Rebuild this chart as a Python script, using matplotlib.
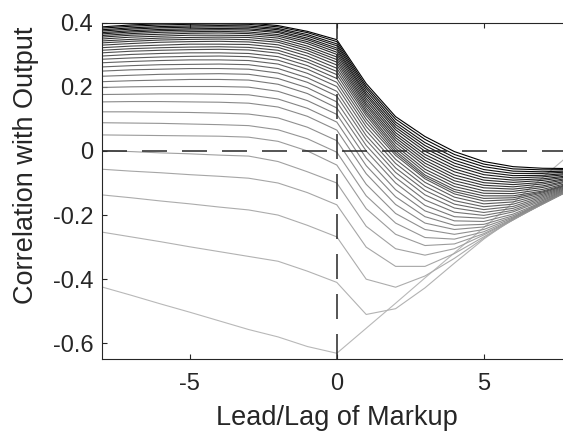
import matplotlib.pyplot as plt

# lead/lag of markup
lags = list(range(-8, 9))

# one row per curve, lightest (bottom) to darkest (top)
corr_lines = [
    [-0.424, -0.450, -0.477, -0.503, -0.530, -0.557, -0.580, -0.610, -0.631, -0.553, -0.475, -0.396, -0.318, -0.239, -0.161, -0.083, -0.005],
    [-0.253, -0.268, -0.283, -0.299, -0.314, -0.329, -0.344, -0.375, -0.410, -0.510, -0.492, -0.427, -0.350, -0.275, -0.210, -0.155, -0.110],
    [-0.137, -0.146, -0.156, -0.165, -0.175, -0.184, -0.200, -0.232, -0.268, -0.400, -0.425, -0.390, -0.335, -0.272, -0.214, -0.160, -0.114],
    [-0.057, -0.063, -0.068, -0.074, -0.079, -0.085, -0.100, -0.130, -0.168, -0.300, -0.360, -0.360, -0.320, -0.268, -0.215, -0.163, -0.116],
    [0.001, -0.002, -0.006, -0.009, -0.013, -0.016, -0.033, -0.065, -0.100, -0.235, -0.305, -0.325, -0.305, -0.262, -0.215, -0.165, -0.118],
    [0.050, 0.049, 0.048, 0.047, 0.046, 0.043, 0.030, 0.000, -0.044, -0.180, -0.260, -0.295, -0.290, -0.258, -0.214, -0.166, -0.119],
    [0.088, 0.087, 0.086, 0.084, 0.082, 0.079, 0.066, 0.038, -0.004, -0.140, -0.225, -0.270, -0.275, -0.252, -0.212, -0.166, -0.119],
    [0.122, 0.122, 0.121, 0.120, 0.118, 0.115, 0.103, 0.074, 0.032, -0.104, -0.195, -0.245, -0.260, -0.245, -0.209, -0.165, -0.119],
    [0.153, 0.154, 0.154, 0.153, 0.152, 0.149, 0.137, 0.108, 0.065, -0.071, -0.167, -0.225, -0.245, -0.237, -0.206, -0.164, -0.119],
    [0.176, 0.177, 0.178, 0.178, 0.177, 0.175, 0.162, 0.133, 0.090, -0.046, -0.143, -0.205, -0.232, -0.229, -0.202, -0.162, -0.118],
    [0.198, 0.200, 0.201, 0.201, 0.201, 0.199, 0.186, 0.157, 0.114, -0.022, -0.121, -0.187, -0.218, -0.220, -0.197, -0.159, -0.117],
    [0.216, 0.219, 0.221, 0.223, 0.223, 0.221, 0.208, 0.179, 0.134, 0.000, -0.100, -0.170, -0.205, -0.210, -0.190, -0.155, -0.115],
    [0.233, 0.236, 0.239, 0.240, 0.241, 0.239, 0.226, 0.197, 0.153, 0.017, -0.083, -0.153, -0.191, -0.201, -0.185, -0.151, -0.113],
    [0.249, 0.253, 0.255, 0.257, 0.257, 0.255, 0.243, 0.214, 0.171, 0.034, -0.067, -0.137, -0.178, -0.192, -0.179, -0.147, -0.111],
    [0.262, 0.266, 0.269, 0.270, 0.271, 0.269, 0.257, 0.228, 0.186, 0.048, -0.053, -0.123, -0.166, -0.183, -0.173, -0.143, -0.109],
    [0.275, 0.279, 0.282, 0.284, 0.284, 0.282, 0.271, 0.242, 0.201, 0.063, -0.039, -0.110, -0.155, -0.174, -0.166, -0.139, -0.107],
    [0.286, 0.290, 0.293, 0.295, 0.296, 0.294, 0.283, 0.255, 0.214, 0.076, -0.026, -0.098, -0.144, -0.165, -0.159, -0.135, -0.105],
    [0.296, 0.301, 0.304, 0.306, 0.306, 0.304, 0.294, 0.266, 0.226, 0.088, -0.014, -0.087, -0.134, -0.156, -0.152, -0.131, -0.103],
    [0.306, 0.311, 0.314, 0.316, 0.317, 0.315, 0.305, 0.277, 0.238, 0.099, -0.007, -0.081, -0.127, -0.148, -0.146, -0.128, -0.102],
    [0.314, 0.319, 0.322, 0.324, 0.325, 0.323, 0.314, 0.286, 0.248, 0.110, 0.000, -0.075, -0.120, -0.140, -0.140, -0.125, -0.100],
    [0.322, 0.327, 0.330, 0.333, 0.333, 0.332, 0.323, 0.296, 0.258, 0.118, 0.008, -0.066, -0.111, -0.132, -0.133, -0.120, -0.097],
    [0.330, 0.335, 0.339, 0.341, 0.342, 0.340, 0.331, 0.305, 0.268, 0.125, 0.016, -0.057, -0.102, -0.124, -0.126, -0.114, -0.093],
    [0.337, 0.342, 0.346, 0.348, 0.349, 0.347, 0.339, 0.313, 0.277, 0.133, 0.025, -0.047, -0.093, -0.115, -0.119, -0.109, -0.090],
    [0.343, 0.348, 0.352, 0.354, 0.355, 0.354, 0.345, 0.320, 0.285, 0.141, 0.033, -0.038, -0.084, -0.107, -0.112, -0.103, -0.086],
    [0.349, 0.355, 0.358, 0.361, 0.361, 0.360, 0.352, 0.327, 0.293, 0.148, 0.041, -0.029, -0.075, -0.099, -0.105, -0.098, -0.083],
    [0.355, 0.361, 0.364, 0.367, 0.368, 0.366, 0.358, 0.335, 0.301, 0.156, 0.049, -0.020, -0.065, -0.091, -0.098, -0.092, -0.079],
    [0.360, 0.366, 0.370, 0.372, 0.373, 0.371, 0.363, 0.341, 0.308, 0.164, 0.057, -0.011, -0.056, -0.083, -0.091, -0.087, -0.076],
    [0.365, 0.371, 0.375, 0.377, 0.378, 0.377, 0.369, 0.347, 0.315, 0.172, 0.066, -0.001, -0.047, -0.074, -0.084, -0.081, -0.072],
    [0.369, 0.375, 0.379, 0.381, 0.382, 0.381, 0.373, 0.352, 0.321, 0.179, 0.074, 0.008, -0.038, -0.066, -0.077, -0.076, -0.069],
    [0.374, 0.380, 0.384, 0.386, 0.387, 0.386, 0.378, 0.358, 0.328, 0.187, 0.082, 0.017, -0.029, -0.058, -0.070, -0.070, -0.065],
    [0.378, 0.384, 0.388, 0.390, 0.391, 0.390, 0.382, 0.363, 0.334, 0.195, 0.090, 0.026, -0.020, -0.049, -0.063, -0.065, -0.062],
    [0.383, 0.389, 0.393, 0.395, 0.396, 0.395, 0.387, 0.369, 0.341, 0.202, 0.099, 0.036, -0.011, -0.041, -0.056, -0.059, -0.058],
    [0.387, 0.393, 0.397, 0.399, 0.400, 0.399, 0.391, 0.373, 0.347, 0.210, 0.107, 0.045, -0.002, -0.033, -0.049, -0.054, -0.055],
]

x_ticks = [-5, 0, 5]
x_labels = ['-5', '0', '5']
y_ticks = [-0.6, -0.4, -0.2, 0, 0.2, 0.4]
y_labels = ['-0.6', '-0.4', '-0.2', '0', '0.2', '0.4']

plt.rcParams['font.family'] = ['Liberation Sans', 'DejaVu Sans']
plt.rcParams['lines.scale_dashes'] = False
ink = '#262626'

fig = plt.figure(figsize=(5.63, 4.34), dpi=100)
# axes run to lag 8, just past the right edge of the picture
ax = fig.add_axes([0.1806, 0.172, 0.8353, 0.7757])

n = len(corr_lines)
for i, vals in enumerate(corr_lines):
    g = 0.72 * (1 - i / (n - 1))
    ax.plot(lags, vals, color=(g, g, g), lw=0.8, zorder=2)

# zero reference lines
ax.axhline(0, color=ink, lw=1.1, ls=(0, (18, 10.8)), zorder=3)
ax.axvline(0, color=ink, lw=1.1, ls=(0, (18, 10.8)), zorder=3)

ax.set_xlim(-8, 8)
ax.set_ylim(-0.65, 0.4)
ax.set_xticks(x_ticks)
ax.set_xticklabels(x_labels)
ax.set_yticks(y_ticks)
ax.set_yticklabels(y_labels)
ax.tick_params(direction='in', length=3.5, width=0.8, top=True, right=True,
               labelsize=17, colors=ink)
ax.tick_params(axis='x', pad=10)
ax.tick_params(axis='y', pad=6)
for s in ax.spines.values():
    s.set_color(ink)
    s.set_linewidth(0.8)

ax.set_xlabel('Lead/Lag of Markup', fontsize=19.5, color=ink, labelpad=7)
ax.set_ylabel('Correlation with Output', fontsize=19.5, color=ink, labelpad=10)
ax.yaxis.label.set_y(0.575)

fig.savefig('out.png', dpi=100)
